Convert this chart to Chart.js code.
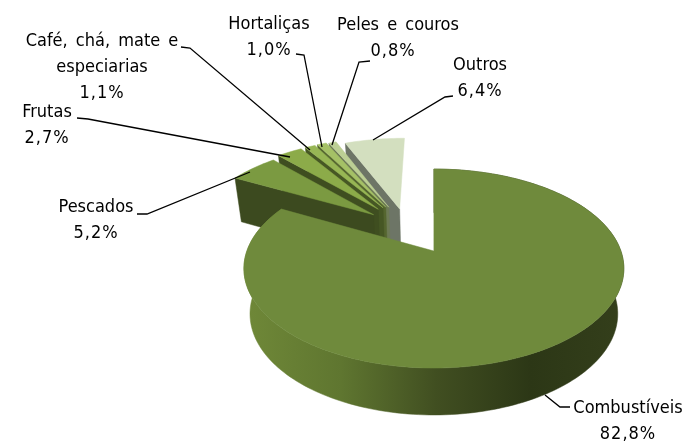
<!DOCTYPE html>
<html>
<head>
<meta charset="utf-8">
<script src="https://cdn.jsdelivr.net/npm/chart.js@4"></script>
<style>
  html, body { margin: 0; background: #fff; }
  canvas { display: block; }
</style>
</head>
<body>
<canvas id="pieChart" width="688" height="443"></canvas>
<script>
const categories = ["Combustíveis", "Pescados", "Frutas", "Café, chá, mate e especiarias", "Hortaliças", "Peles e couros", "Outros"];
const shares = [82.8, 5.2, 2.7, 1.1, 1.0, 0.8, 6.4];

// styles, same order as the categories
const topColors = ["#6f8a3c", "#7b9a41", "#8cab49", "#97b654", "#a5c166", "#bccf94", "#d3dfbf"];
const wallColors = ["#3f4d20", "#3c4a1f", "#3f4e20", "#465724", "#55662f", "#6d7a55", "#6d7566"];
const explode = [30, 24, 27, 27, 27, 26, 22];

// label placement: text lines centred on x, first baseline at y, leader as a polyline
const labelLayout = [
  { x: 628, y: 413, lines: ["Combustíveis"], leader: [[570, 407], [560, 407], [545, 395]] },
  { x: 96, y: 212, lines: ["Pescados"], leader: [[137, 214], [147, 214], [250, 172]] },
  { x: 47, y: 117, lines: ["Frutas"], leader: [[77, 118], [88, 119], [290, 157]] },
  { x: 102, y: 46, lines: ["Café, chá, mate e", "especiarias"], leader: [[181, 47], [190, 48], [310, 150]] },
  { x: 269, y: 29, lines: ["Hortaliças"], leader: [[296, 54], [304, 55], [322, 147]] },
  { x: 398, y: 30, lines: ["Peles e couros"], leader: [[370, 61], [359, 62], [332, 145]] },
  { x: 480, y: 70, lines: ["Outros"], leader: [[453, 96], [445, 97], [373, 140]] },
];

// perspective of the pie plane, top face and bottom face
const PERSP = -0.176;
const PIVOT = [-0.155, -0.257];
const faces = [
  { cx: 434, cy: 251, rx: 187, ry: 96.4 },
  { cx: 434, cy: 296, rx: 181, ry: 98 },
];

function project(u, v, face) {
  const w = 1 + PERSP * v;
  return [face.cx + face.rx * u / w, face.cy + face.ry * v / w];
}

function polygon(ctx, pts, color) {
  ctx.beginPath();
  pts.forEach((p, i) => (i ? ctx.lineTo(p[0], p[1]) : ctx.moveTo(p[0], p[1])));
  ctx.closePath();
  ctx.fillStyle = color;
  ctx.strokeStyle = color;
  ctx.lineWidth = 0.5;
  ctx.fill();
  ctx.stroke();
}

function drawSlice(ctx, arc, i) {
  const start = arc.startAngle, end = arc.endAngle, mid = (start + end) / 2;
  const e = arc.options.offset / 100;
  const ox = PIVOT[0] + e * Math.cos(mid);
  const oy = PIVOT[1] + e * Math.sin(mid);
  const steps = Math.max(4, Math.ceil((end - start) * 40));
  const rim = (face) => {
    const pts = [];
    for (let s = 0; s <= steps; s++) {
      const a = start + (end - start) * s / steps;
      pts.push(project(ox + Math.cos(a), oy + Math.sin(a), face));
    }
    return pts;
  };
  const apexTop = project(ox, oy, faces[0]);
  const apexBottom = project(ox, oy, faces[1]);
  const rimTop = rim(faces[0]);
  const rimBottom = rim(faces[1]);

  if (i === 0) {
    // only the big slice shows its outer wall, with the shaded band
    const wall = ctx.createLinearGradient(246, 0, 625, 0);
    wall.addColorStop(0, "#6f8838");
    wall.addColorStop(0.25, "#5f7630");
    wall.addColorStop(0.5, "#414f21");
    wall.addColorStop(0.75, "#2c3716");
    wall.addColorStop(1, "#343f1b");
    polygon(ctx, rimTop.concat(rimBottom.slice().reverse()), wall);
  } else {
    // the back slices only show the wall along their leading edge
    polygon(ctx, [apexTop, rimTop[0], rimBottom[0], apexBottom], wallColors[i]);
  }

  polygon(ctx, [apexTop].concat(rimTop), topColors[i]);
}

const pie3d = {
  id: "pie3d",
  beforeDatasetsDraw(chart) {
    const ctx = chart.ctx;
    const arcs = chart.getDatasetMeta(0).data;
    ctx.save();
    ctx.lineJoin = "round";
    for (let i = arcs.length - 1; i >= 0; i--) drawSlice(ctx, arcs[i], i);
    ctx.restore();
    return false;
  },
  afterDraw(chart) {
    const ctx = chart.ctx;
    ctx.save();
    ctx.fillStyle = "#000";
    ctx.strokeStyle = "#000";
    ctx.lineWidth = 1.3;
    ctx.font = '18px "DejaVu Sans Condensed"';
    ctx.textAlign = "center";
    ctx.wordSpacing = "3px";
    labelLayout.forEach((lab, i) => {
      const pct = shares[i].toFixed(1).replace(".", ",") + "%";
      lab.lines.forEach((t, n) => ctx.fillText(t, lab.x, lab.y + n * 26));
      ctx.letterSpacing = "1px";
      ctx.fillText(pct, lab.x - (i === 5 ? 5 : 0), lab.y + lab.lines.length * 26);
      ctx.letterSpacing = "0px";
      ctx.beginPath();
      lab.leader.forEach((p, n) => (n ? ctx.lineTo(p[0], p[1]) : ctx.moveTo(p[0], p[1])));
      ctx.stroke();
    });
    ctx.restore();
  },
};

new Chart(document.getElementById("pieChart"), {
  type: "pie",
  data: {
    labels: categories,
    datasets: [{ data: shares, backgroundColor: topColors, offset: explode, borderWidth: 0 }],
  },
  options: {
    responsive: false,
    animation: false,
    plugins: { legend: { display: false }, tooltip: { enabled: false } },
  },
  plugins: [pie3d],
});
</script>
</body>
</html>
